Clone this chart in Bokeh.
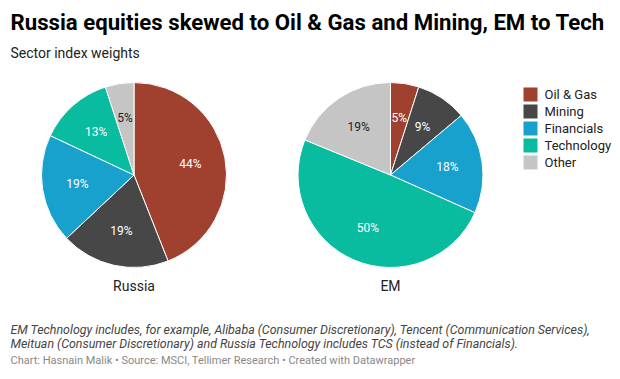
import numpy as np
from bokeh.plotting import figure
from bokeh.models import ColumnDataSource, Range1d
from bokeh.core.properties import value
from bokeh.embed import file_html
from bokeh.resources import INLINE

# ---- data ----
sectors = ["Oil & Gas", "Mining", "Financials", "Technology", "Other"]
russia = [44, 19, 19, 13, 5]
em = [5, 9, 18, 50, 19]
pie_names = ["Russia", "EM"]
colors = ["#a0412f", "#474747", "#18a1cd", "#09bb9f", "#c5c5c5"]
label_colors = ["white", "white", "white", "white", "#222222"]

title = "Russia equities skewed to Oil & Gas and Mining, EM to Tech"
subtitle = "Sector index weights"
notes = ["EM Technology includes, for example, Alibaba (Consumer Discretionary), Tencent (Communication Services),",
         "Meituan (Consumer Discretionary) and Russia Technology includes TCS (instead of Financials)."]
credit = "Chart: Hasnain Malik \u2022 Source: MSCI, Tellimer Research \u2022 Created with Datawrapper"

W, H = 620, 379
OFF = 0
FONT = value("Roboto")
DESC = 0.24  # descent fraction for 'bottom' baseline placement

def sx(x):
    return x - OFF

def sy(y):
    return H - (y - OFF)

def base_text(x, ys, texts, size, **kw):
    # place text so that its alphabetic baseline sits at screen y
    p.text(x=[sx(x)] * len(ys), y=[sy(y + DESC * size) for y in ys], text=texts,
           text_font=FONT, text_font_size=f"{size}px", text_baseline="bottom", **kw)

p = figure(width=W, height=H, x_range=Range1d(0, W), y_range=Range1d(0, H),
           output_backend="svg", toolbar_location=None, min_border=0)
p.axis.visible = False
p.grid.visible = False
p.outline_line_color = None
p.background_fill_color = "white"

R = 92.5
centers = [(133.5, 174.5), (390, 174.5)]
LABEL_FRAC = 0.62

for name, vals, (cx, cy) in zip(pie_names, [russia, em], centers):
    v = np.array(vals, dtype=float)
    frac = v / v.sum()
    cum = np.concatenate([[0], np.cumsum(frac)])
    start = np.pi / 2 - 2 * np.pi * cum[:-1]
    end = np.pi / 2 - 2 * np.pi * cum[1:]
    mid = (start + end) / 2
    src = ColumnDataSource(dict(start=start, end=end, color=colors))
    p.wedge(x=sx(cx), y=sy(cy), radius=R, start_angle="start", end_angle="end",
            direction="clock", fill_color="color", line_color="white", line_width=1,
            source=src)
    lx = sx(cx) + LABEL_FRAC * R * np.cos(mid)
    ly = sy(cy) + LABEL_FRAC * R * np.sin(mid)
    lsrc = ColumnDataSource(dict(x=lx, y=ly, t=[f"{int(a)}%" for a in vals], c=label_colors))
    p.text(x="x", y="y", text="t", text_color="c", source=lsrc, text_font=FONT,
           text_font_size="12px", text_align="center", text_baseline="middle")
    p.text(x=[sx(cx)], y=[sy(285)], text=[name], text_font=FONT, text_font_size="14px",
           text_color="#222222", text_align="center", text_baseline="middle")

# legend
leg_y = [94 + 17 * i for i in range(len(sectors))]
p.rect(x=[sx(530)] * len(sectors), y=[sy(y) for y in leg_y], width=14, height=14,
       fill_color=colors, line_color=None)
p.text(x=[sx(544)] * len(sectors), y=[sy(y) for y in leg_y], text=sectors, text_font=FONT,
       text_font_size="13px", text_color="#222222", text_baseline="middle")

# titles and notes
base_text(10, [29], [title], 22.2, text_font_style="bold", text_color="#000000")
base_text(10, [57], [subtitle], 14, text_color="#222222")
base_text(10, [334, 348], notes, 12.4, text_font_style="italic", text_color="#444444")
base_text(10, [364], [credit], 11, text_color="#888888")

open("out.html", "w").write(file_html(p, INLINE))
